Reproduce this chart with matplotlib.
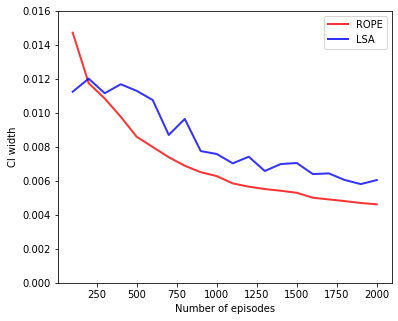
import matplotlib
matplotlib.use('Agg')
import matplotlib.pyplot as plt

episodes = [100, 200, 300, 400, 500, 600, 700, 800, 900, 1000,
            1100, 1200, 1300, 1400, 1500, 1600, 1700, 1800, 1900, 2000]
rope = [0.01472, 0.01175, 0.01085, 0.00978, 0.0086, 0.00800, 0.00740, 0.00690, 0.00652, 0.00629,
        0.00586, 0.00567, 0.00553, 0.00543, 0.00531, 0.00502, 0.00492, 0.00482, 0.00471, 0.00463]
lsa = [0.01125, 0.01202, 0.01116, 0.01169, 0.0113, 0.01076, 0.00871, 0.00965, 0.00776, 0.00759,
       0.00704, 0.00743, 0.00659, 0.00700, 0.00706, 0.00641, 0.00645, 0.00606, 0.00582, 0.00606]

fig, ax = plt.subplots(figsize=(398 / 72, 321 / 72), dpi=72)
fig.subplots_adjust(left=0.1445, right=0.985, top=0.966, bottom=0.118)

ax.plot(episodes, rope, color='red', alpha=0.8, linewidth=2, label='ROPE')
ax.plot(episodes, lsa, color='blue', alpha=0.8, linewidth=2, label='LSA')
ax.set_ylim(0, 0.016)
ax.set_xticks([250, 500, 750, 1000, 1250, 1500, 1750, 2000])
ax.set_xlabel('Number of episodes')
ax.set_ylabel('CI width')
ax.legend(loc='upper right')

plt.savefig('out.png', dpi=72)
